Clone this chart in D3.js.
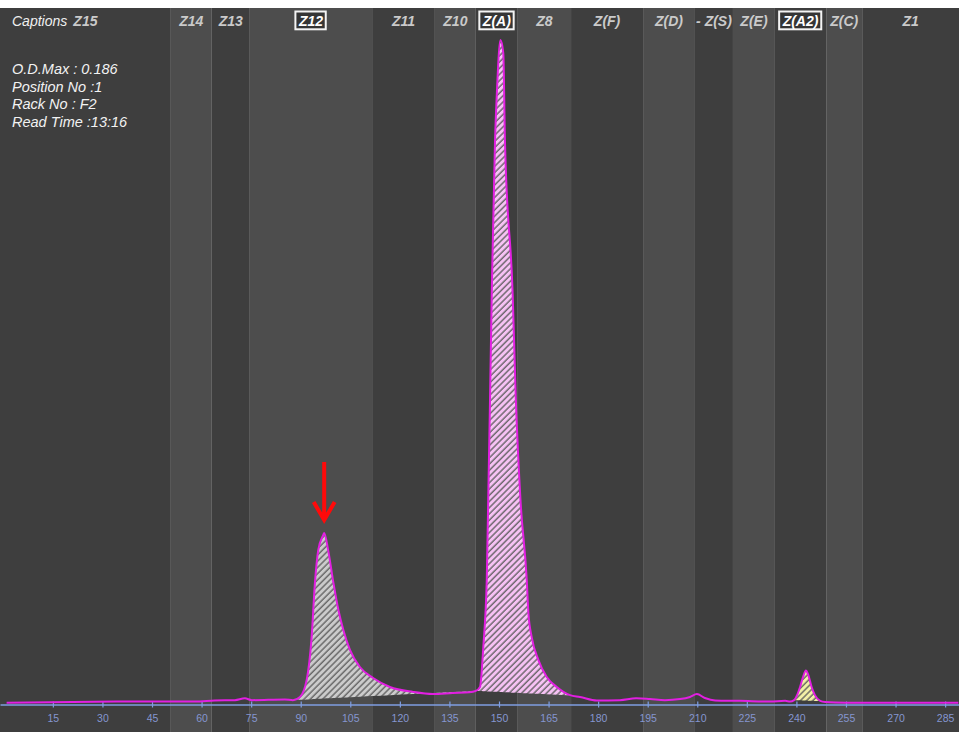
<!DOCTYPE html>
<html>
<head>
<meta charset="utf-8">
<script src="https://cdn.jsdelivr.net/npm/d3@7"></script>
<style>
  html, body { margin: 0; padding: 0; background: #fff; }
  svg { display: block; font-family: "Liberation Sans", Arial, sans-serif; }
</style>
</head>
<body>
<svg id="chart" width="959" height="732"></svg>
<script>
// zone bands (x edges in scan position units) and their captions
const zoneNames = ['Z15', 'Z14', 'Z13', 'Z12', 'Z11', 'Z10', 'Z(A)', 'Z8', 'Z(F)',
  'Z(D)', '- Z(S)', 'Z(E)', 'Z(A2)', 'Z(C)', 'Z1'];
const zoneEdges = [-1, 50.7, 63.1, 74.6, 111.6, 130.6, 143.0, 155.7, 171.8,
  193.6, 209.3, 220.8, 233.5, 249.0, 259.9, 289.2];
const boxedZones = ['Z12', 'Z(A)', 'Z(A2)'];

// densitometer trace: position / optical density
const positions = [1, 36.8, 58, 64, 70.1, 73.1, 75.2, 85.2, 87.65, 89.77, 91.8, 93.3,
  94.3, 95.3, 96.8, 97.1, 98.3, 99.9, 101.4, 102.9, 104.9, 107.9, 111.9, 117.0,
  124.0, 130.0, 136.0, 141.0, 143.0, 144.25, 145.25, 146.3, 147.8, 148.8, 149.3,
  150.45, 151.3, 151.8, 154.15, 155.1, 156.5, 158.4, 158.9, 159.9, 161.9, 164.45,
  167.5, 171.5, 174.5, 179.6, 186.6, 191.5, 195.7, 200.2, 204.8, 207.8, 209.9,
  212.3, 215.4, 222.9, 232.0, 236.6, 238.1, 239.3, 240.2, 241.1, 242.0, 242.9,
  243.5, 244.6, 245.6, 247.2, 248.7, 255, 289];
const density = [0.0001, 0.0004, 0.0004, 0.0007, 0.0008, 0.0013, 0.0008, 0.0010,
  0.0008, 0.0017, 0.0065, 0.0185, 0.0337, 0.0429, 0.0471, 0.0477, 0.0429, 0.0337,
  0.0261, 0.0205, 0.0149, 0.0101, 0.0070, 0.0045, 0.0031, 0.0025, 0.0028, 0.0030,
  0.0034, 0.0045, 0.0157, 0.0345, 0.1144, 0.1579, 0.1700, 0.1860, 0.1823, 0.1579,
  0.1144, 0.0850, 0.0570, 0.0345, 0.0252, 0.0185, 0.0121, 0.0073, 0.0045, 0.0022,
  0.0017, 0.0007, 0.0008, 0.0013, 0.0011, 0.0008, 0.0011, 0.0017, 0.0025, 0.0014,
  0.0007, 0.0006, 0.0004, 0.0006, 0.0004, 0.0008, 0.0022, 0.0045, 0.0073, 0.0091,
  0.0081, 0.0045, 0.0022, 0.0006, 0.0003, 0.0001, 0.0001];

// integrated fractions
const fractionStart = [87.65, 143.0, 239.3];
const fractionEnd = [143.0, 172.0, 247.6];

const tickValues = [15, 30, 45, 60, 75, 90, 105, 120, 135, 150, 165, 180, 195, 210,
  225, 240, 255, 270, 285];

const infoLines = ['O.D.Max : 0.186', 'Position No :1', 'Rack No : F2', 'Read Time :13:16'];
const odMax = 0.186;

const svg = d3.select('#chart');
const width = +svg.attr('width');
const height = +svg.attr('height');
const bandTop = 8;

const x = d3.scaleLinear().domain([-1, 289.2]).range([0, width]);
const y = d3.scaleLinear().domain([0, odMax]).range([703, 40]);

const points = positions.map((p, i) => ({p, v: density[i]}));

// linear lookup along the trace
function valueAt(p) {
  const i = d3.bisector((d) => d.p).left(points, p);
  if (i <= 0) return points[0].v;
  if (i >= points.length) return points[points.length - 1].v;
  const a = points[i - 1];
  const b = points[i];
  return a.v + (b.v - a.v) * (p - a.p) / (b.p - a.p);
}

// hatch patterns
const fillColors = ['#cbcbcb', '#f6c2f4', '#f2f0a6'];
const defs = svg.append('defs');
fillColors.forEach((c, i) => {
  const pat = defs.append('pattern')
    .attr('id', `hatch-${i}`)
    .attr('patternUnits', 'userSpaceOnUse')
    .attr('width', 4.4)
    .attr('height', 4.4)
    .attr('patternTransform', 'rotate(45)');
  pat.append('rect').attr('width', 4.4).attr('height', 4.4).attr('fill', c);
  pat.append('line')
    .attr('x1', 1).attr('x2', 1)
    .attr('y1', 0).attr('y2', 4.4)
    .attr('stroke', '#5c5c5c')
    .attr('stroke-width', 1.3);
});

svg.append('rect')
  .attr('width', width).attr('height', height)
  .attr('fill', '#fff');

// zone bands
const zones = zoneNames.map((name, i) => ({name, x0: zoneEdges[i], x1: zoneEdges[i + 1], i}));

svg.append('g')
  .selectAll('rect')
  .data(zones)
  .enter()
  .append('rect')
  .attr('x', (d) => x(d.x0))
  .attr('y', bandTop)
  .attr('width', (d) => x(d.x1) - x(d.x0))
  .attr('height', height - bandTop)
  .attr('fill', (d) => d.i % 2 ? '#4d4d4d' : '#3e3e3e');

// captions
svg.append('text')
  .attr('x', 12)
  .attr('y', 26)
  .attr('fill', '#efefef')
  .attr('font-size', 14)
  .attr('font-style', 'italic')
  .text('Captions');

const label = svg.append('g')
  .selectAll('g')
  .data(zones)
  .enter()
  .append('g')
  .attr('transform', (d) => `translate(${(x(d.x0) + x(d.x1)) / 2},26)`);

label.append('text')
  .attr('text-anchor', 'middle')
  .attr('font-size', 14)
  .attr('font-weight', 'bold')
  .attr('font-style', 'italic')
  .attr('fill', (d) => boxedZones.includes(d.name) ? '#ffffff' : '#cacaca')
  .text((d) => d.name);

label.filter((d) => boxedZones.includes(d.name))
  .insert('rect', 'text')
  .each(function() {
    // eslint-disable-next-line no-invalid-this
    const g = d3.select(this.parentNode);
    const bb = g.select('text').node().getBBox();
    d3.select(this)
      .attr('x', bb.x - 2.5)
      .attr('y', -14.5)
      .attr('width', bb.width + 5)
      .attr('height', 17.8);
  })
  .attr('fill', '#353535')
  .attr('stroke', '#f4f4f4')
  .attr('stroke-width', 2);

// info block
svg.append('g')
  .selectAll('text')
  .data(infoLines)
  .enter()
  .append('text')
  .attr('x', 12)
  .attr('y', (d, i) => 74 + i * 17.5)
  .attr('fill', '#f2f2f2')
  .attr('font-size', 14.5)
  .attr('font-style', 'italic')
  .text((d) => d);

// axis
const axis = d3.axisBottom(x)
  .tickValues(tickValues)
  .tickSizeInner(3)
  .tickSizeOuter(0)
  .tickPadding(7);

const ax = svg.append('g')
  .attr('transform', 'translate(0,704.5)')
  .call(axis);
ax.select('.domain').attr('stroke', '#7f9ee2').attr('stroke-width', 1.5);
ax.selectAll('.tick line').attr('stroke', '#7f9ee2').attr('y1', -3).attr('stroke-width', 1.2);
ax.selectAll('.tick text')
  .attr('fill', '#8596d0')
  .attr('font-size', 10.5)
  .attr('font-family', '"Liberation Sans", Arial, sans-serif');

// fractions (hatched areas)
const area = d3.area()
  .x((d) => x(d.p))
  .y0((d) => y(d.base))
  .y1((d) => y(d.v))
  .curve(d3.curveMonotoneX);

fractionStart.forEach((s, i) => {
  const e = fractionEnd[i];
  const vs = valueAt(s);
  const ve = valueAt(e);
  const seg = [{p: s, v: vs}]
    .concat(points.filter((d) => d.p > s && d.p < e))
    .concat([{p: e, v: ve}])
    .map((d) => ({p: d.p, v: d.v, base: vs + (ve - vs) * (d.p - s) / (e - s)}));
  svg.append('path')
    .datum(seg)
    .attr('d', area)
    .attr('fill', `url(#hatch-${i})`);
});

// trace
const line = d3.line()
  .x((d) => x(d.p))
  .y((d) => y(d.v))
  .curve(d3.curveMonotoneX);

svg.append('path')
  .datum(points)
  .attr('d', line)
  .attr('fill', 'none')
  .attr('stroke', '#e21fe2')
  .attr('stroke-width', 2);

// red arrow pointing at the first fraction's peak
const peak = d3.greatest(points.filter((d) => d.p > fractionStart[0] && d.p < fractionEnd[0]), (d) => d.v);
const ax0 = x(peak.p);
const tip = y(peak.v) - 13;
svg.append('path')
  .attr('d', `M${ax0},${tip - 58}V${tip}M${ax0 - 10.5},${tip - 18}L${ax0},${tip}L${ax0 + 10.5},${tip - 18}`)
  .attr('fill', 'none')
  .attr('stroke', '#ff0a0a')
  .attr('stroke-width', 4)
  .attr('stroke-linejoin', 'miter');
</script>
</body>
</html>
